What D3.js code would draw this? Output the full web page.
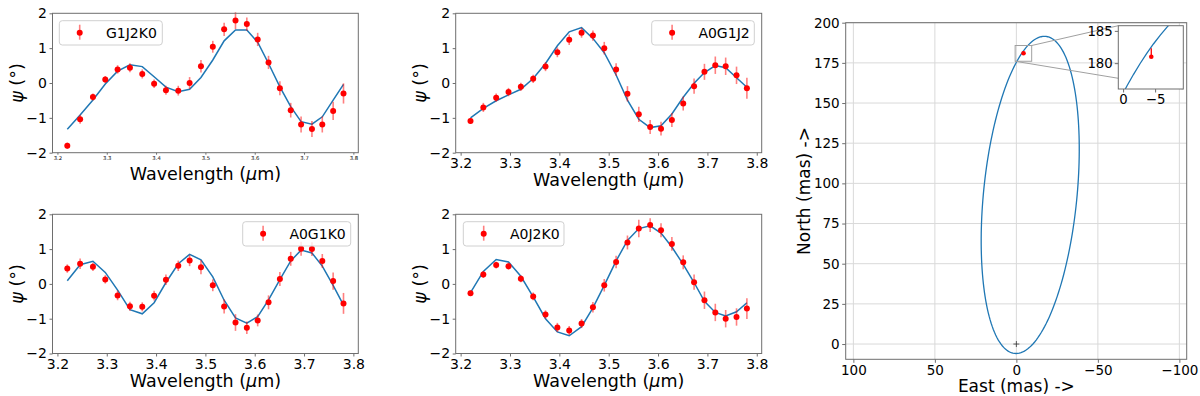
<!DOCTYPE html>
<html><head><meta charset="utf-8">
<script src="https://cdn.jsdelivr.net/npm/d3@7"></script>
<style>
body{margin:0;background:#fff;}
text{font-family:"DejaVu Sans",sans-serif;fill:#000;}
</style>
</head><body>
<svg id="c" width="1200" height="396"></svg>
<script>
// ---------- data ----------
const wavelengths = [3.220,3.246,3.272,3.297,3.322,3.347,3.372,3.396,3.420,3.445,3.468,3.491,3.515,3.538,3.561,3.584,3.606,3.628,3.651,3.673,3.694,3.716,3.737,3.759,3.780];
const waveTicks = [3.2,3.3,3.4,3.5,3.6,3.7,3.8];
const psiTicks = [-2,-1,0,1,2];

const obsG1J2K0 = [-1.80,-1.04,-0.40,0.10,0.39,0.44,0.26,-0.02,-0.21,-0.22,0.00,0.48,1.04,1.54,1.79,1.69,1.25,0.59,-0.15,-0.78,-1.19,-1.32,-1.19,-0.80,-0.30];
const errG1J2K0 = [0.09,0.13,0.10,0.10,0.12,0.13,0.13,0.12,0.13,0.14,0.17,0.18,0.17,0.19,0.24,0.19,0.19,0.19,0.20,0.21,0.23,0.23,0.23,0.26,0.29];
const modelG1J2K0 = [-1.33,-0.92,-0.49,-0.03,0.34,0.52,0.47,0.18,-0.12,-0.25,-0.18,0.16,0.66,1.21,1.52,1.52,1.17,0.56,-0.11,-0.68,-1.11,-1.18,-0.97,-0.49,-0.04];

const obsA0G1J2 = [-1.09,-0.70,-0.42,-0.26,-0.11,0.12,0.47,0.88,1.24,1.44,1.36,1.00,0.39,-0.31,-0.90,-1.26,-1.31,-1.06,-0.59,-0.09,0.32,0.51,0.48,0.22,-0.15];
const errA0G1J2 = [0.08,0.13,0.12,0.12,0.12,0.12,0.13,0.14,0.15,0.14,0.15,0.18,0.18,0.22,0.22,0.20,0.20,0.20,0.20,0.22,0.23,0.25,0.25,0.25,0.30];
const modelA0G1J2 = [-1.00,-0.73,-0.51,-0.34,-0.18,0.13,0.56,1.07,1.47,1.59,1.28,0.87,0.23,-0.49,-1.04,-1.28,-1.23,-0.89,-0.41,-0.01,0.30,0.50,0.44,0.15,-0.12];

const obsA0G1K0 = [0.44,0.58,0.49,0.13,-0.33,-0.64,-0.66,-0.34,0.12,0.52,0.67,0.48,-0.04,-0.65,-1.11,-1.26,-1.05,-0.53,0.14,0.72,1.01,1.00,0.66,0.08,-0.56];
const errA0G1K0 = [0.12,0.15,0.12,0.12,0.14,0.13,0.13,0.14,0.15,0.15,0.16,0.20,0.17,0.20,0.24,0.18,0.17,0.20,0.20,0.20,0.20,0.20,0.20,0.25,0.30];
const modelA0G1K0 = [0.09,0.55,0.65,0.33,-0.18,-0.74,-0.86,-0.54,0.04,0.58,0.85,0.69,0.20,-0.47,-0.98,-1.13,-0.94,-0.46,0.12,0.66,0.97,0.89,0.51,-0.04,-0.61];

const obsA0J2K0 = [-0.27,0.27,0.54,0.51,0.15,-0.36,-0.88,-1.25,-1.34,-1.14,-0.67,-0.04,0.63,1.19,1.59,1.69,1.54,1.15,0.62,0.05,-0.47,-0.82,-1.00,-0.95,-0.71];
const errA0J2K0 = [0.08,0.10,0.10,0.10,0.10,0.11,0.12,0.13,0.13,0.13,0.15,0.18,0.18,0.20,0.25,0.20,0.20,0.20,0.20,0.22,0.25,0.25,0.25,0.25,0.30];
const modelA0J2K0 = [-0.25,0.36,0.70,0.63,0.22,-0.37,-1.00,-1.38,-1.49,-1.23,-0.69,-0.04,0.66,1.25,1.59,1.67,1.46,1.06,0.56,0.04,-0.50,-0.82,-0.92,-0.80,-0.54];

// orbit (mas): centre and two conjugate semi-axis vectors [east, north]
const orbitCenter = [-8.5, 92.8];
const orbitAxisA = [-8.7, 98.7];
const orbitAxisB = [28.8, 0];
const detection = [-4.4, 181.0, 182.3]; // east, north, north upper error
const eastTicks = [100,50,0,-50,-100];
const northTicks = [0,25,50,75,100,125,150,175,200];
const insetEast = [0.75,-9.4];
const insetNorth = [176,185.8];
const insetEastTicks = [0,-5];
const insetNorthTicks = [180,185];

// ---------- drawing ----------
const svg = d3.select("#c");
const BLUE = "#1f77b4", SPINE = "#6e6e6e";
const fmt1 = d3.format(".1f"), fmtD = d3.format("d");

function styleAxis(g, fs, color){
  g.select(".domain").remove();
  g.selectAll(".tick line").attr("stroke", SPINE);
  g.selectAll(".tick text").style("font-size", fs+"px").attr("fill", color||"#000");
}

function panel(box, name, obs, err, model, leg, tiny){
  const g = svg.append("g");
  const x = d3.scaleLinear([3.19,3.81],[box.l,box.r]);
  const y = d3.scaleLinear([-2,2],[box.b,box.t]);
  g.append("rect").attr("x",box.l).attr("y",box.t).attr("width",box.r-box.l).attr("height",box.b-box.t)
    .attr("fill","#fff");
  const xa = g.append("g").attr("transform",`translate(0,${box.b})`)
    .call(d3.axisBottom(x).tickValues(waveTicks).tickFormat(fmt1).tickSize(tiny?2:3).tickPadding(tiny?1.5:2.5));
  styleAxis(xa, tiny?5.3:14, tiny?"#333":"#000");
  const ya = g.append("g").attr("transform",`translate(${box.l},0)`)
    .call(d3.axisLeft(y).tickValues(psiTicks).tickFormat(fmtD).tickSize(3).tickPadding(2.5));
  styleAxis(ya, 14);
  const pts = wavelengths.map((w,i)=>({w, o:obs[i], e:err[i], m:model[i]}));
  g.append("path").datum(pts).attr("fill","none").attr("stroke",BLUE).attr("stroke-width",1.5)
    .attr("d", d3.line().x(d=>x(d.w)).y(d=>y(d.m)));
  g.selectAll(".eb").data(pts).join("line").attr("stroke","rgba(255,0,0,0.5)").attr("stroke-width",1.6)
    .attr("x1",d=>x(d.w)).attr("x2",d=>x(d.w)).attr("y1",d=>y(d.o-d.e)).attr("y2",d=>y(d.o+d.e));
  g.selectAll(".pt").data(pts).join("circle").attr("fill","#ff0000")
    .attr("cx",d=>x(d.w)).attr("cy",d=>y(d.o)).attr("r",3);
  g.append("rect").attr("x",box.l).attr("y",box.t).attr("width",box.r-box.l).attr("height",box.b-box.t)
    .attr("fill","none").attr("stroke",SPINE).attr("stroke-width",1);
  // legend
  const lg = g.append("g").attr("transform",`translate(${leg[0]},${leg[1]})`);
  lg.append("rect").attr("width",leg[2]).attr("height",24.3).attr("rx",3)
    .attr("fill","rgba(255,255,255,0.8)").attr("stroke","#d0d0d0").attr("stroke-width",1);
  lg.append("line").attr("x1",20.4).attr("x2",20.4).attr("y1",4).attr("y2",19)
    .attr("stroke","rgba(255,0,0,0.5)").attr("stroke-width",1.6);
  lg.append("circle").attr("cx",20.4).attr("cy",12).attr("r",3).attr("fill","#ff0000");
  lg.append("text").attr("x",46.7).attr("y",17).style("font-size","14px").text(name);
  // labels
  const xl = g.append("text").attr("x",(box.l+box.r)/2).attr("y",box.b+(tiny?27:33.5))
    .attr("text-anchor","middle").style("font-size","17.5px");
  xl.append("tspan").text("Wavelength (");
  xl.append("tspan").style("font-style","italic").text("μ");
  xl.append("tspan").text("m)");
  const yl = g.append("text").attr("transform",`translate(${box.l-36},${(box.t+box.b)/2}) rotate(-90)`)
    .attr("text-anchor","middle").attr("dominant-baseline","central").style("font-size","17.5px");
  yl.append("tspan").style("font-style","italic").text("ψ");
  yl.append("tspan").text(" (°)");
}

panel({l:52.5,r:358.3,t:13.3,b:152.7}, "G1J2K0", obsG1J2K0, errG1J2K0, modelG1J2K0, [59.3,20.7,103], true);
panel({l:455.7,r:761.7,t:13.3,b:152.7}, "A0G1J2", obsA0G1J2, errA0G1J2, modelA0G1J2, [651.7,20.7,102.6], false);
panel({l:52.5,r:358.3,t:214.3,b:353.5}, "A0G1K0", obsA0G1K0, errA0G1K0, modelA0G1K0, [242.7,221.7,108], false);
panel({l:455.7,r:761.7,t:214.3,b:353.5}, "A0J2K0", obsA0J2K0, errA0J2K0, modelA0J2K0, [463.3,221.7,100.7], false);

// ---------- orbit panel ----------
const R = {l:845.7, r:1186.7, t:22.7, b:359.3};
const ex = d3.scaleLinear([104.7,-104.5],[R.l,R.r]);
const ny = d3.scaleLinear([-9.5,200],[R.b,R.t]);
const og = svg.append("g");
og.selectAll(".gx").data(eastTicks).join("line").attr("stroke","#d9d9d9").attr("stroke-width",1)
  .attr("x1",d=>ex(d)).attr("x2",d=>ex(d)).attr("y1",R.t).attr("y2",R.b);
og.selectAll(".gy").data(northTicks).join("line").attr("stroke","#d9d9d9").attr("stroke-width",1)
  .attr("y1",d=>ny(d)).attr("y2",d=>ny(d)).attr("x1",R.l).attr("x2",R.r);
const oxa = og.append("g").attr("transform",`translate(0,${R.b})`)
  .call(d3.axisBottom(ex).tickValues(eastTicks).tickFormat(fmtD).tickSize(3.5).tickPadding(2.5));
styleAxis(oxa, 13.5);
const oya = og.append("g").attr("transform",`translate(${R.l},0)`)
  .call(d3.axisLeft(ny).tickValues(northTicks).tickFormat(fmtD).tickSize(3.5).tickPadding(2.5));
styleAxis(oya, 13.5);

const tSteps = d3.range(0, 361, 2).map(a=>a*Math.PI/180);
const orbitPts = tSteps.map(t=>[
  orbitCenter[0]+orbitAxisA[0]*Math.cos(t)+orbitAxisB[0]*Math.sin(t),
  orbitCenter[1]+orbitAxisA[1]*Math.cos(t)+orbitAxisB[1]*Math.sin(t)]);
og.append("path").datum(orbitPts).attr("fill","none").attr("stroke",BLUE).attr("stroke-width",1.3)
  .attr("d", d3.line().x(d=>ex(d[0])).y(d=>ny(d[1])));
// star marker
og.append("path").attr("stroke","#333").attr("stroke-width",0.8)
  .attr("d",`M${ex(0)-3},${ny(0)}H${ex(0)+3}M${ex(0)},${ny(0)-3}V${ny(0)+3}`);
og.append("line").attr("stroke","#ff0000").attr("stroke-width",1.2)
  .attr("x1",ex(detection[0])).attr("x2",ex(detection[0])).attr("y1",ny(detection[1])).attr("y2",ny(detection[2]));
og.append("circle").attr("cx",ex(detection[0])).attr("cy",ny(detection[1])).attr("r",2.3).attr("fill","#ff0000");
og.append("rect").attr("x",R.l).attr("y",R.t).attr("width",R.r-R.l).attr("height",R.b-R.t)
  .attr("fill","none").attr("stroke",SPINE);
// zoom box + connectors
const I = {l:1118.3, r:1183.3, t:25.7, b:89};
const bx0 = ex(insetEast[0]), bx1 = ex(insetEast[1]), by0 = ny(insetNorth[1]), by1 = ny(insetNorth[0]);
og.append("rect").attr("x",bx0).attr("y",by0).attr("width",bx1-bx0).attr("height",by1-by0)
  .attr("fill","none").attr("stroke","#a0a0a0").attr("stroke-width",1);
og.append("line").attr("x1",bx1).attr("y1",by0).attr("x2",I.l).attr("y2",I.t).attr("stroke","#a0a0a0");
og.append("line").attr("x1",bx0).attr("y1",by1).attr("x2",I.r).attr("y2",I.b).attr("stroke","#a0a0a0");
og.append("text").attr("transform",`translate(804,${(R.t+R.b)/2}) rotate(-90)`)
  .attr("text-anchor","middle").attr("dominant-baseline","central").style("font-size","17px").text("North (mas) ->");
og.append("text").attr("x",ex(0)).attr("y",391.5).attr("text-anchor","middle").style("font-size","17px").text("East (mas) ->");

// ---------- inset ----------
const ix = d3.scaleLinear(insetEast,[I.l,I.r]);
const iy = d3.scaleLinear(insetNorth,[I.b,I.t]);
const ig = svg.append("g");
ig.append("defs").append("clipPath").attr("id","ic").append("rect")
  .attr("x",I.l).attr("y",I.t).attr("width",I.r-I.l).attr("height",I.b-I.t);
ig.append("rect").attr("x",I.l).attr("y",I.t).attr("width",I.r-I.l).attr("height",I.b-I.t).attr("fill","#fff");
const ixa = ig.append("g").attr("transform",`translate(0,${I.b})`)
  .call(d3.axisBottom(ix).tickValues(insetEastTicks).tickFormat(fmtD).tickSize(3.5).tickPadding(2));
styleAxis(ixa, 13.3);
const iya = ig.append("g").attr("transform",`translate(${I.l},0)`)
  .call(d3.axisLeft(iy).tickValues(insetNorthTicks).tickFormat(fmtD).tickSize(3.5).tickPadding(2));
styleAxis(iya, 13.3);
const ic = ig.append("g").attr("clip-path","url(#ic)");
ic.append("path").datum(orbitPts).attr("fill","none").attr("stroke",BLUE).attr("stroke-width",1.3)
  .attr("d", d3.line().x(d=>ix(d[0])).y(d=>iy(d[1])));
ic.append("line").attr("stroke","#ff0000").attr("stroke-width",1.3)
  .attr("x1",ix(detection[0])).attr("x2",ix(detection[0])).attr("y1",iy(detection[1])).attr("y2",iy(detection[2]));
ic.append("circle").attr("cx",ix(detection[0])).attr("cy",iy(detection[1])).attr("r",2.3).attr("fill","#ff0000");
ig.append("rect").attr("x",I.l).attr("y",I.t).attr("width",I.r-I.l).attr("height",I.b-I.t)
  .attr("fill","none").attr("stroke",SPINE);
</script>
</body></html>
